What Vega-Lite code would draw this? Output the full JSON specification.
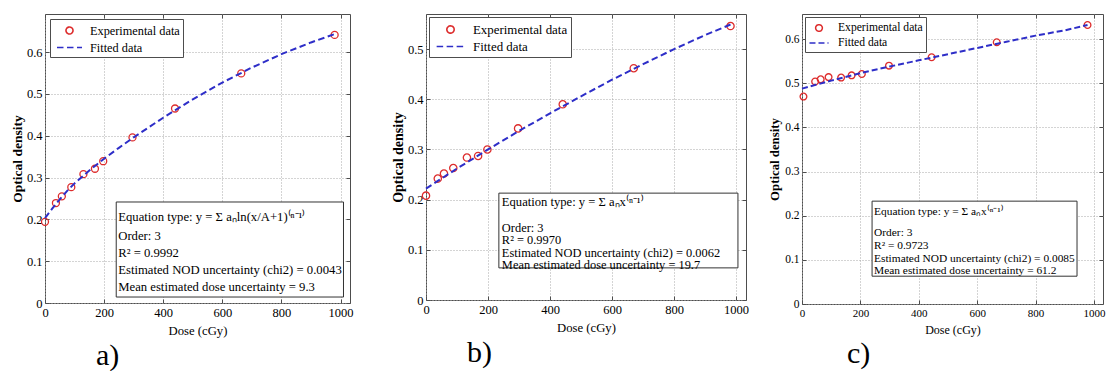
{
  "$schema": "https://vega.github.io/schema/vega-lite/v6.json",
  "padding": {"left": 9, "top": 13, "right": 0, "bottom": 0},
  "background": "white",
  "spacing": 0,
  "config": {
    "font": "Liberation Serif",
    "view": {"stroke": "#4d4d4d", "strokeWidth": 1},
    "style": {
      "guide-label": {"font": "Liberation Serif", "fill": "black"},
      "guide-title": {"font": "Liberation Serif", "fill": "black"},
      "group-title": {"font": "Liberation Serif"}
    },
    "axis": {"labelFont": "Liberation Serif", "titleFont": "Liberation Serif", "labelColor": "black", "titleColor": "black", "tickColor": "#4d4d4d", "gridColor": "#a8a8a8", "gridDash": [1, 2], "gridWidth": 1, "domain": false, "labelFlush": false, "labelOverlap": false},
    "legend": {"labelFont": "Liberation Serif", "titleFont": "Liberation Serif"},
    "text": {"font": "Liberation Serif"},
    "title": {"font": "Liberation Serif"}
  },
  "resolve": {
    "scale": {"x": "independent", "y": "independent", "color": "independent", "shape": "independent", "strokeDash": "independent"},
    "legend": {"color": "independent", "shape": "independent", "strokeDash": "independent"}
  },
  "datasets": {
    "expA": [
      {"dose": 0, "od": 0.194, "series": "Experimental data"},
      {"dose": 37, "od": 0.239, "series": "Experimental data"},
      {"dose": 57, "od": 0.255, "series": "Experimental data"},
      {"dose": 89, "od": 0.277, "series": "Experimental data"},
      {"dose": 130, "od": 0.308, "series": "Experimental data"},
      {"dose": 169, "od": 0.321, "series": "Experimental data"},
      {"dose": 197, "od": 0.339, "series": "Experimental data"},
      {"dose": 296, "od": 0.396, "series": "Experimental data"},
      {"dose": 440, "od": 0.465, "series": "Experimental data"},
      {"dose": 664, "od": 0.549, "series": "Experimental data"},
      {"dose": 980, "od": 0.641, "series": "Experimental data"}
    ],
    "fitA": [
      {"dose": 0, "od": 0.203, "series": "Fitted data"},
      {"dose": 25, "od": 0.226, "series": "Fitted data"},
      {"dose": 50, "od": 0.248, "series": "Fitted data"},
      {"dose": 75, "od": 0.268, "series": "Fitted data"},
      {"dose": 100, "od": 0.286, "series": "Fitted data"},
      {"dose": 150, "od": 0.317, "series": "Fitted data"},
      {"dose": 200, "od": 0.345, "series": "Fitted data"},
      {"dose": 250, "od": 0.371, "series": "Fitted data"},
      {"dose": 300, "od": 0.396, "series": "Fitted data"},
      {"dose": 400, "od": 0.443, "series": "Fitted data"},
      {"dose": 500, "od": 0.487, "series": "Fitted data"},
      {"dose": 600, "od": 0.527, "series": "Fitted data"},
      {"dose": 700, "od": 0.563, "series": "Fitted data"},
      {"dose": 800, "od": 0.595, "series": "Fitted data"},
      {"dose": 900, "od": 0.623, "series": "Fitted data"},
      {"dose": 980, "od": 0.643, "series": "Fitted data"}
    ],
    "expB": [
      {"dose": 0, "od": 0.208, "series": "Experimental data"},
      {"dose": 38, "od": 0.242, "series": "Experimental data"},
      {"dose": 58, "od": 0.252, "series": "Experimental data"},
      {"dose": 88, "od": 0.263, "series": "Experimental data"},
      {"dose": 132, "od": 0.284, "series": "Experimental data"},
      {"dose": 168, "od": 0.287, "series": "Experimental data"},
      {"dose": 198, "od": 0.300, "series": "Experimental data"},
      {"dose": 297, "od": 0.342, "series": "Experimental data"},
      {"dose": 441, "od": 0.390, "series": "Experimental data"},
      {"dose": 670, "od": 0.462, "series": "Experimental data"},
      {"dose": 982, "od": 0.546, "series": "Experimental data"}
    ],
    "fitB": [
      {"dose": 0, "od": 0.222, "series": "Fitted data"},
      {"dose": 100, "od": 0.262, "series": "Fitted data"},
      {"dose": 200, "od": 0.300, "series": "Fitted data"},
      {"dose": 300, "od": 0.337, "series": "Fitted data"},
      {"dose": 400, "od": 0.372, "series": "Fitted data"},
      {"dose": 500, "od": 0.406, "series": "Fitted data"},
      {"dose": 600, "od": 0.439, "series": "Fitted data"},
      {"dose": 700, "od": 0.470, "series": "Fitted data"},
      {"dose": 800, "od": 0.500, "series": "Fitted data"},
      {"dose": 900, "od": 0.528, "series": "Fitted data"},
      {"dose": 982, "od": 0.549, "series": "Fitted data"}
    ],
    "expC": [
      {"dose": 5, "od": 0.470, "series": "Experimental data"},
      {"dose": 45, "od": 0.504, "series": "Experimental data"},
      {"dose": 64, "od": 0.509, "series": "Experimental data"},
      {"dose": 91, "od": 0.514, "series": "Experimental data"},
      {"dose": 134, "od": 0.513, "series": "Experimental data"},
      {"dose": 170, "od": 0.518, "series": "Experimental data"},
      {"dose": 205, "od": 0.521, "series": "Experimental data"},
      {"dose": 298, "od": 0.540, "series": "Experimental data"},
      {"dose": 444, "od": 0.559, "series": "Experimental data"},
      {"dose": 667, "od": 0.593, "series": "Experimental data"},
      {"dose": 978, "od": 0.632, "series": "Experimental data"}
    ],
    "fitC": [
      {"dose": 0, "od": 0.488, "series": "Fitted data"},
      {"dose": 100, "od": 0.506, "series": "Fitted data"},
      {"dose": 200, "od": 0.523, "series": "Fitted data"},
      {"dose": 300, "od": 0.538, "series": "Fitted data"},
      {"dose": 400, "od": 0.552, "series": "Fitted data"},
      {"dose": 500, "od": 0.566, "series": "Fitted data"},
      {"dose": 600, "od": 0.580, "series": "Fitted data"},
      {"dose": 700, "od": 0.594, "series": "Fitted data"},
      {"dose": 800, "od": 0.608, "series": "Fitted data"},
      {"dose": 900, "od": 0.620, "series": "Fitted data"},
      {"dose": 978, "od": 0.632, "series": "Fitted data"}
    ]
  },
  "hconcat": [
    {
      "width": 305,
      "height": 289,
      "data": {"values": [{"eq": "Equation type: y = Σ aₙln(x/A+1)⁽ⁿ⁻¹⁾", "stats": ["Order: 3", "R² = 0.9992", "Estimated NOD uncertainty (chi2) = 0.0043", "Mean estimated dose uncertainty = 9.3"]}]},
      "title": {"text": "a)", "orient": "bottom", "anchor": "start", "frame": "group", "dx": 51, "offset": 4, "font": "Liberation Serif", "fontSize": 30, "fontWeight": "normal", "color": "black"},
      "resolve": {"axis": {"x": "independent", "y": "independent"}},
      "layer": [
        {
          "data": {"name": "expA"},
          "mark": {"type": "point", "filled": false, "size": 225, "strokeWidth": 1.3, "opacity": 1},
          "encoding": {
            "x": {"field": "dose", "type": "quantitative", "scale": {"domain": [0, 1032], "nice": false, "zero": false},
              "axis": {"orient": "bottom", "title": "Dose (cGy)", "values": [0, 200, 400, 600, 800, 1000], "format": "d", "grid": true, "tickSize": -4, "labelPadding": 7, "labelFont": "Liberation Serif", "titleFont": "Liberation Serif", "labelFontSize": 12.5, "titleFontSize": 12.7, "titleFontWeight": "normal", "titlePadding": 5, "minExtent": 16, "maxExtent": 16}},
            "y": {"field": "od", "type": "quantitative", "scale": {"domain": [0, 0.691], "nice": false},
              "axis": {"orient": "left", "title": "Optical density", "values": [0, 0.1, 0.2, 0.3, 0.4, 0.5, 0.6], "format": ".1~f", "grid": true, "tickSize": -4, "labelPadding": 7, "labelFont": "Liberation Serif", "titleFont": "Liberation Serif", "labelFontSize": 12.5, "titleFontSize": 13.5, "titleFontWeight": "bold", "titlePadding": 3, "minExtent": 18, "maxExtent": 18}},
            "color": {"field": "series", "type": "nominal", "scale": {"domain": ["Experimental data", "Fitted data"], "range": ["#dd2c2c", "#2e2ec8"]},
              "legend": {"title": null, "orient": "top-left", "offset": 5, "padding": 3, "rowPadding": 1, "symbolSize": 225, "symbolOffset": 8, "labelOffset": 12, "labelFont": "Liberation Serif", "labelFontSize": 12.3, "labelColor": "black", "labelLimit": 300, "symbolStrokeWidth": 1.6, "symbolFillColor": "transparent", "strokeColor": "#4d4d4d", "fillColor": "white"}},
            "shape": {"field": "series", "type": "nominal", "scale": {"domain": ["Experimental data", "Fitted data"], "range": ["M-0.467,0A0.467,0.467,0,1,0,0.467,0A0.467,0.467,0,1,0,-0.467,0Z", "M-1.667,0H1.667"]}}
          }
        },
        {
          "data": {"name": "fitA"},
          "mark": {"type": "line", "strokeWidth": 2},
          "encoding": {
            "x": {"field": "dose", "type": "quantitative",
              "axis": {"orient": "top", "labels": false, "title": null, "grid": false, "tickSize": -4, "values": [0, 200, 400, 600, 800, 1000], "minExtent": 0, "maxExtent": 0, "titlePadding": 0}},
            "y": {"field": "od", "type": "quantitative",
              "axis": {"orient": "right", "labels": false, "title": null, "grid": false, "tickSize": -4, "values": [0, 0.1, 0.2, 0.3, 0.4, 0.5, 0.6], "minExtent": 39, "maxExtent": 39, "titlePadding": 0}},
            "color": {"field": "series", "type": "nominal", "scale": {"domain": ["Experimental data", "Fitted data"], "range": ["#dd2c2c", "#2e2ec8"]}},
            "strokeDash": {"field": "series", "type": "nominal", "scale": {"domain": ["Experimental data", "Fitted data"], "range": [[1, 0], [6.5, 3.5]]}}
          }
        },
        {
          "mark": {"type": "rect", "fill": "white", "stroke": "#333333", "strokeWidth": 1},
          "encoding": {
            "x": {"datum": 241, "type": "quantitative", "axis": null},
            "x2": {"datum": 1010},
            "y": {"datum": 0.0143, "type": "quantitative", "axis": null},
            "y2": {"datum": 0.2415}
          }
        },
        {
          "mark": {"type": "text", "align": "left", "baseline": "middle", "dx": 2, "font": "Liberation Serif", "fontSize": 12.7, "color": "black"},
          "encoding": {
            "x": {"datum": 241, "type": "quantitative", "axis": null},
            "y": {"datum": 0.2056, "type": "quantitative", "axis": null},
            "text": {"field": "eq"}
          }
        },
        {
          "mark": {"type": "text", "align": "left", "baseline": "middle", "dx": 2, "font": "Liberation Serif", "fontSize": 12.7, "lineHeight": 17.1, "color": "black"},
          "encoding": {
            "x": {"datum": 241, "type": "quantitative", "axis": null},
            "y": {"datum": 0.160, "type": "quantitative", "axis": null},
            "text": {"field": "stats"}
          }
        }
      ]
    },
    {
      "width": 320,
      "height": 286,
      "data": {"values": [{"eq": "Equation type: y = Σ aₙx⁽ⁿ⁻¹⁾", "stats": ["Order: 3", "R² = 0.9970", "Estimated NOD uncertainty (chi2) = 0.0062", "Mean estimated dose uncertainty = 19.7"]}]},
      "title": {"text": "b)", "orient": "bottom", "anchor": "start", "frame": "group", "dx": 41, "offset": 4, "font": "Liberation Serif", "fontSize": 30, "fontWeight": "normal", "color": "black"},
      "resolve": {"axis": {"x": "independent", "y": "independent"}},
      "layer": [
        {
          "data": {"name": "expB"},
          "mark": {"type": "point", "filled": false, "size": 289, "strokeWidth": 1.3, "opacity": 1},
          "encoding": {
            "x": {"field": "dose", "type": "quantitative", "scale": {"domain": [0, 1032], "nice": false, "zero": false},
              "axis": {"orient": "bottom", "title": "Dose (cGy)", "values": [0, 200, 400, 600, 800, 1000], "format": "d", "grid": true, "tickSize": -4, "labelPadding": 7, "labelFont": "Liberation Serif", "titleFont": "Liberation Serif", "labelFontSize": 12.5, "titleFontSize": 12.7, "titleFontWeight": "normal", "titlePadding": 5, "minExtent": 16, "maxExtent": 16}},
            "y": {"field": "od", "type": "quantitative", "scale": {"domain": [0, 0.570], "nice": false},
              "axis": {"orient": "left", "title": "Optical density", "values": [0, 0.1, 0.2, 0.3, 0.4, 0.5], "format": ".1~f", "grid": true, "tickSize": -4, "labelPadding": 7, "labelFont": "Liberation Serif", "titleFont": "Liberation Serif", "labelFontSize": 12.5, "titleFontSize": 14, "titleFontWeight": "bold", "titlePadding": 3, "minExtent": 18, "maxExtent": 18}},
            "color": {"field": "series", "type": "nominal", "scale": {"domain": ["Experimental data", "Fitted data"], "range": ["#dd2c2c", "#2e2ec8"]},
              "legend": {"title": null, "orient": "top-left", "offset": 3, "padding": 3, "rowPadding": 0, "symbolSize": 289, "symbolOffset": 9, "labelOffset": 13, "labelFont": "Liberation Serif", "labelFontSize": 12.9, "labelColor": "black", "labelLimit": 300, "symbolStrokeWidth": 1.6, "symbolFillColor": "transparent", "strokeColor": "#4d4d4d", "fillColor": "white"}},
            "shape": {"field": "series", "type": "nominal", "scale": {"domain": ["Experimental data", "Fitted data"], "range": ["M-0.43,0A0.43,0.43,0,1,0,0.43,0A0.43,0.43,0,1,0,-0.43,0Z", "M-1.63,0H1.63"]}}
          }
        },
        {
          "data": {"name": "fitB"},
          "mark": {"type": "line", "strokeWidth": 2},
          "encoding": {
            "x": {"field": "dose", "type": "quantitative",
              "axis": {"orient": "top", "labels": false, "title": null, "grid": false, "tickSize": -4, "values": [0, 200, 400, 600, 800, 1000], "minExtent": 0, "maxExtent": 0, "titlePadding": 0}},
            "y": {"field": "od", "type": "quantitative",
              "axis": {"orient": "right", "labels": false, "title": null, "grid": false, "tickSize": -4, "values": [0, 0.1, 0.2, 0.3, 0.4, 0.5], "minExtent": 20, "maxExtent": 20, "titlePadding": 0}},
            "color": {"field": "series", "type": "nominal", "scale": {"domain": ["Experimental data", "Fitted data"], "range": ["#dd2c2c", "#2e2ec8"]}},
            "strokeDash": {"field": "series", "type": "nominal", "scale": {"domain": ["Experimental data", "Fitted data"], "range": [[1, 0], [6.5, 3.5]]}}
          }
        },
        {
          "mark": {"type": "rect", "fill": "white", "stroke": "#333333", "strokeWidth": 1},
          "encoding": {
            "x": {"datum": 235, "type": "quantitative", "axis": null},
            "x2": {"datum": 1006},
            "y": {"datum": 0.064, "type": "quantitative", "axis": null},
            "y2": {"datum": 0.213}
          }
        },
        {
          "mark": {"type": "text", "align": "left", "baseline": "middle", "dx": 3, "font": "Liberation Serif", "fontSize": 12.6, "color": "black"},
          "encoding": {
            "x": {"datum": 235, "type": "quantitative", "axis": null},
            "y": {"datum": 0.195, "type": "quantitative", "axis": null},
            "text": {"field": "eq"}
          }
        },
        {
          "mark": {"type": "text", "align": "left", "baseline": "middle", "dx": 3, "font": "Liberation Serif", "fontSize": 12.4, "lineHeight": 12.2, "color": "black"},
          "encoding": {
            "x": {"datum": 235, "type": "quantitative", "axis": null},
            "y": {"datum": 0.143, "type": "quantitative", "axis": null},
            "text": {"field": "stats"}
          }
        }
      ]
    },
    {
      "width": 301,
      "height": 290,
      "data": {"values": [{"eq": "Equation type: y = Σ aₙx⁽ⁿ⁻¹⁾", "stats": ["Order: 3", "R² = 0.9723", "Estimated NOD uncertainty (chi2) = 0.0085", "Mean estimated dose uncertainty = 61.2"]}]},
      "title": {"text": "c)", "orient": "bottom", "anchor": "start", "frame": "group", "dx": 45, "offset": 4, "font": "Liberation Serif", "fontSize": 30, "fontWeight": "normal", "color": "black"},
      "resolve": {"axis": {"x": "independent", "y": "independent"}},
      "layer": [
        {
          "data": {"name": "expC"},
          "mark": {"type": "point", "filled": false, "size": 196, "strokeWidth": 1.3, "opacity": 1},
          "encoding": {
            "x": {"field": "dose", "type": "quantitative", "scale": {"domain": [0, 1031], "nice": false, "zero": false},
              "axis": {"orient": "bottom", "title": "Dose (cGy)", "values": [0, 200, 400, 600, 800, 1000], "format": "d", "grid": true, "tickSize": -4, "labelPadding": 7, "labelFont": "Liberation Serif", "titleFont": "Liberation Serif", "labelFontSize": 11, "titleFontSize": 12, "titleFontWeight": "normal", "titlePadding": 5, "minExtent": 15, "maxExtent": 15}},
            "y": {"field": "od", "type": "quantitative", "scale": {"domain": [0, 0.657], "nice": false},
              "axis": {"orient": "left", "title": "Optical density", "values": [0, 0.1, 0.2, 0.3, 0.4, 0.5, 0.6], "format": ".1~f", "grid": true, "tickSize": -4, "labelPadding": 7, "labelFont": "Liberation Serif", "titleFont": "Liberation Serif", "labelFontSize": 11.5, "titleFontSize": 12.8, "titleFontWeight": "bold", "titlePadding": 3, "minExtent": 18, "maxExtent": 18}},
            "color": {"field": "series", "type": "nominal", "scale": {"domain": ["Experimental data", "Fitted data"], "range": ["#dd2c2c", "#2e2ec8"]},
              "legend": {"title": null, "orient": "top-left", "offset": 3, "padding": 3, "rowPadding": 0, "symbolSize": 196, "symbolOffset": 3, "labelOffset": 11, "labelFont": "Liberation Serif", "labelFontSize": 11.6, "labelColor": "black", "labelLimit": 300, "symbolStrokeWidth": 1.5, "symbolFillColor": "transparent", "strokeColor": "#4d4d4d", "fillColor": "white"}},
            "shape": {"field": "series", "type": "nominal", "scale": {"domain": ["Experimental data", "Fitted data"], "range": ["M-0.48,0A0.48,0.48,0,1,0,0.48,0A0.48,0.48,0,1,0,-0.48,0Z", "M-1.36,0H1.36"]}}
          }
        },
        {
          "data": {"name": "fitC"},
          "mark": {"type": "line", "strokeWidth": 2},
          "encoding": {
            "x": {"field": "dose", "type": "quantitative",
              "axis": {"orient": "top", "labels": false, "title": null, "grid": false, "tickSize": -4, "values": [0, 200, 400, 600, 800, 1000], "minExtent": 0, "maxExtent": 0, "titlePadding": 0}},
            "y": {"field": "od", "type": "quantitative",
              "axis": {"orient": "right", "labels": false, "title": null, "grid": false, "tickSize": -4, "values": [0, 0.1, 0.2, 0.3, 0.4, 0.5, 0.6], "minExtent": 0, "maxExtent": 0, "titlePadding": 0}},
            "color": {"field": "series", "type": "nominal", "scale": {"domain": ["Experimental data", "Fitted data"], "range": ["#dd2c2c", "#2e2ec8"]}},
            "strokeDash": {"field": "series", "type": "nominal", "scale": {"domain": ["Experimental data", "Fitted data"], "range": [[1, 0], [6, 3]]}}
          }
        },
        {
          "mark": {"type": "rect", "fill": "white", "stroke": "#333333", "strokeWidth": 1},
          "encoding": {
            "x": {"datum": 240, "type": "quantitative", "axis": null},
            "x2": {"datum": 942},
            "y": {"datum": 0.063, "type": "quantitative", "axis": null},
            "y2": {"datum": 0.233}
          }
        },
        {
          "mark": {"type": "text", "align": "left", "baseline": "middle", "dx": 2, "font": "Liberation Serif", "fontSize": 11.4, "color": "black"},
          "encoding": {
            "x": {"datum": 240, "type": "quantitative", "axis": null},
            "y": {"datum": 0.208, "type": "quantitative", "axis": null},
            "text": {"field": "eq"}
          }
        },
        {
          "mark": {"type": "text", "align": "left", "baseline": "middle", "dx": 2, "font": "Liberation Serif", "fontSize": 11.4, "lineHeight": 12.7, "color": "black"},
          "encoding": {
            "x": {"datum": 240, "type": "quantitative", "axis": null},
            "y": {"datum": 0.160, "type": "quantitative", "axis": null},
            "text": {"field": "stats"}
          }
        }
      ]
    }
  ]
}
